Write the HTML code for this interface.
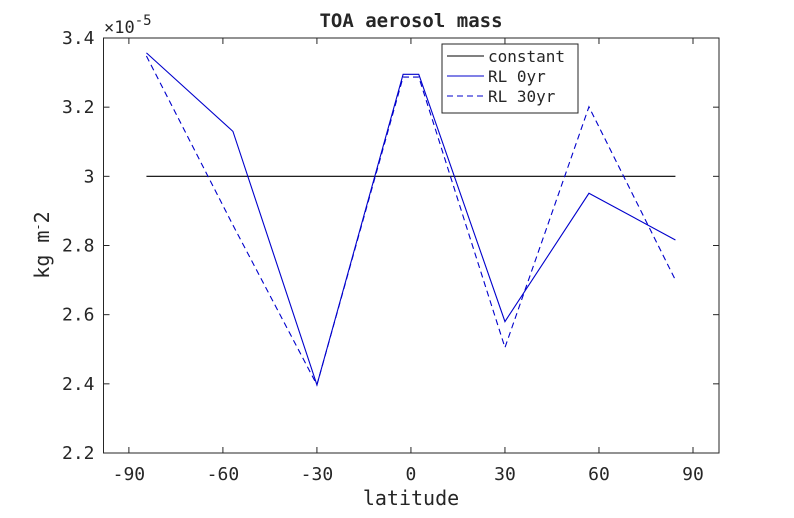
<!DOCTYPE html>
<html><head><meta charset="utf-8"><style>
body{margin:0;background:#fff;}
svg text{font-family:"DejaVu Sans Mono","Liberation Mono",monospace;fill:#262626;}
</style></head><body>
<svg id="chart" width="794" height="513" xmlns="http://www.w3.org/2000/svg"></svg>
<script>
const lats=[-84.4,-56.8,-30,-2.5,2.5,30,56.8,84.4];
const rl0=[3.357,3.130,2.397,3.295,3.295,2.580,2.951,2.816];
const rl30=[3.348,2.859,2.397,3.287,3.287,2.505,3.201,2.700];
const constLats=[-84.4,84.4];
const constVals=[3.0,3.0];
const xTicks=[-90,-60,-30,0,30,60,90];
const yTicks=[2.2,2.4,2.6,2.8,3.0,3.2,3.4];
const yTickLabels=["2.2","2.4","2.6","2.8","3","3.2","3.4"];
const L=103.5,R=719,T=38,B=453,xmin=-98.1,xmax=98.3,ymin=2.2,ymax=3.4;
const sx=v=>L+(v-xmin)/(xmax-xmin)*(R-L);
const sy=v=>B-(v-ymin)/(ymax-ymin)*(B-T);
const svg=document.getElementById('chart');
const NS='http://www.w3.org/2000/svg';
function mk(tag,attrs,parent){const e=document.createElementNS(NS,tag);for(const k in attrs)e.setAttribute(k,attrs[k]);(parent||svg).appendChild(e);return e;}
let box=mk('rect',{x:L,y:T,width:R-L,height:B-T,fill:'#fff',stroke:'#262626','stroke-width':1});


xTicks.forEach(v=>{const x=sx(v);
 let t=mk('line',{x1:x,x2:x,y1:B,y2:B-6,stroke:'#262626'});
 
 
 let t2=mk('line',{x1:x,x2:x,y1:T,y2:T+6,stroke:'#262626'});
 
 
 let l=mk('text',{x:x,y:B+27,'text-anchor':'middle','font-size':18});l.textContent=v;
 
 
});
yTicks.forEach((v,i)=>{const y=sy(v);
 let t=mk('line',{x1:L,x2:L+6,y1:y,y2:y,stroke:'#262626'});
 
 
 let t2=mk('line',{x1:R,x2:R-6,y1:y,y2:y,stroke:'#262626'});
 
 
 let l=mk('text',{x:L-9,y:y+6,'text-anchor':'end','font-size':18});l.textContent=yTickLabels[i];
 
 
});
function line(xs,ys,color,dash,name){
 const p=mk('polyline',{points:xs.map((x,i)=>sx(x)+','+sy(ys[i])).join(' '),fill:'none',stroke:color,'stroke-width':1.1});
 if(dash)p.setAttribute('stroke-dasharray',dash);
 
 
}
line(constLats,constVals,'#000',null,'constant-line');
line(lats,rl0,'#0000cc',null,'rl-0yr-line');
line(lats,rl30,'#0000cc','6,4','rl-30yr-line');
let ex=mk('text',{x:104,y:33,'font-size':17});ex.innerHTML='×10<tspan dy="-8" font-size="14">-5</tspan>';


let title=mk('text',{x:411,y:27,'text-anchor':'middle','font-size':19,'font-weight':'bold'});title.textContent='TOA aerosol mass';


let xl=mk('text',{x:411,y:505,'text-anchor':'middle','font-size':20});xl.textContent='latitude';


let yl=mk('text',{x:0,y:0,'text-anchor':'middle','font-size':20,transform:'translate(49,245) rotate(-90)'});yl.innerHTML='kg m<tspan dy="-7" font-size="12">-</tspan><tspan dy="7">2</tspan>';


const lg=mk('g',{});


mk('rect',{x:442,y:44,width:136,height:69,fill:'#fff',stroke:'#262626'},lg);
const legNames=['constant','RL 0yr','RL 30yr'];
const legColors=['#000','#0000cc','#0000cc'];
const legDash=[null,null,'6,4'];
legNames.forEach((n,i)=>{const y=56+i*20;
 const ln=mk('line',{x1:447,x2:484,y1:y,y2:y,stroke:legColors[i],'stroke-width':1.1},lg);
 if(legDash[i])ln.setAttribute('stroke-dasharray',legDash[i]);
 
 
 const t=mk('text',{x:488,y:y+6,'font-size':16},lg);t.textContent=n;
 
 
});
</script>
</body></html>
